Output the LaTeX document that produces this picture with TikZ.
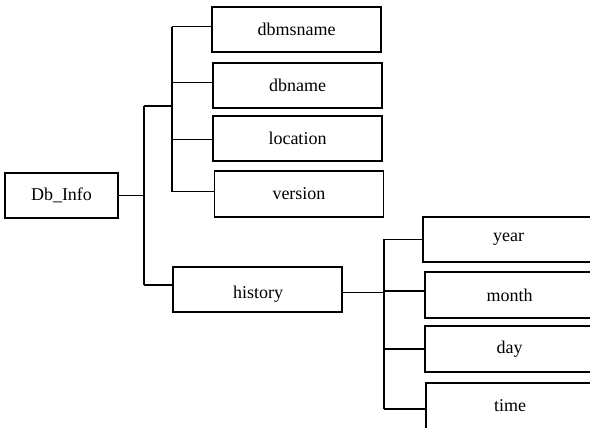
\documentclass[tikz,border=0pt]{standalone}
\usepackage{fontspec}
\setmainfont{Liberation Serif}
\begin{document}
\begin{tikzpicture}[x=0.75pt,y=-0.75pt,
  txt/.style={font=\fontsize{13.5pt}{15pt}\selectfont},
  box/.style={draw, line width=1pt, inner sep=0pt, txt,
              minimum width=126.75pt, minimum height=33.75pt},
  wire/.style={line width=0.9pt}]
\useasboundingbox (0,0) rectangle (590,428);
\clip (0,0) rectangle (590,428);
% boxes
\node[box, minimum width=84.75pt] (dbinfo) at (61.5,195.5) {Db\_Info};
\node[box] (dbmsname) at (296.5,29.5) {dbmsname};
\node[box] (dbname) at (297.5,85.5) {dbname};
\node[box] (location) at (297.5,138.5) {location};
\node[box, minimum height=34.5pt] (version) at (299,194) {version};
\node[box] (history) at (257.5,289.5) {};
\node[txt] (historytext) at (258,294.5) {history};
\node[box, minimum width=128.25pt] (year) at (508.5,239.5) {year};
\node[box, minimum width=126.75pt, minimum height=34.5pt] (month) at (509.5,295) {month};
\node[box, minimum height=34.5pt] (day) at (509.5,349) {day};
\node[box, minimum width=126pt, minimum height=34.5pt] (time) at (510,406) {time};
% bus coordinates
\coordinate (t1) at (144,106);
\coordinate (t1b) at (144,285);
\coordinate (u1) at (172,27);
\coordinate (u1b) at (172,192);
\coordinate (l1) at (384,239);
\coordinate (l1b) at (384,409);
% connectors
\draw[wire] (dbinfo.east) -- (dbinfo.east -| t1);
\draw[wire] (t1) -- (t1b);
\draw[wire] (t1) -- (t1 -| u1);
\draw[wire] (u1) -- (u1b);
\draw[wire] ([yshift=2pt]dbmsname.west) -- ([yshift=2pt]dbmsname.west -| u1);
\draw[wire] ([yshift=2pt]dbname.west) -- ([yshift=2pt]dbname.west -| u1);
\draw[wire] ([yshift=-1pt]location.west) -- ([yshift=-1pt]location.west -| u1);
\draw[wire] ([yshift=2pt]version.west) -- ([yshift=2pt]version.west -| u1);
\draw[wire] ([yshift=3.4pt]history.west) -- ([yshift=3.4pt]history.west -| t1);
\draw[wire] ([yshift=-2pt]history.east) -- ([yshift=-2pt]history.east -| l1);
\draw[wire] (l1) -- (l1b);
\draw[wire] (year.west) -- (year.west -| l1);
\draw[wire] ([yshift=3pt]month.west) -- ([yshift=3pt]month.west -| l1);
\draw[wire] (day.west) -- (day.west -| l1);
\draw[wire] ([yshift=-2.2pt]time.west) -- ([yshift=-2.2pt]time.west -| l1);
\end{tikzpicture}
\end{document}
